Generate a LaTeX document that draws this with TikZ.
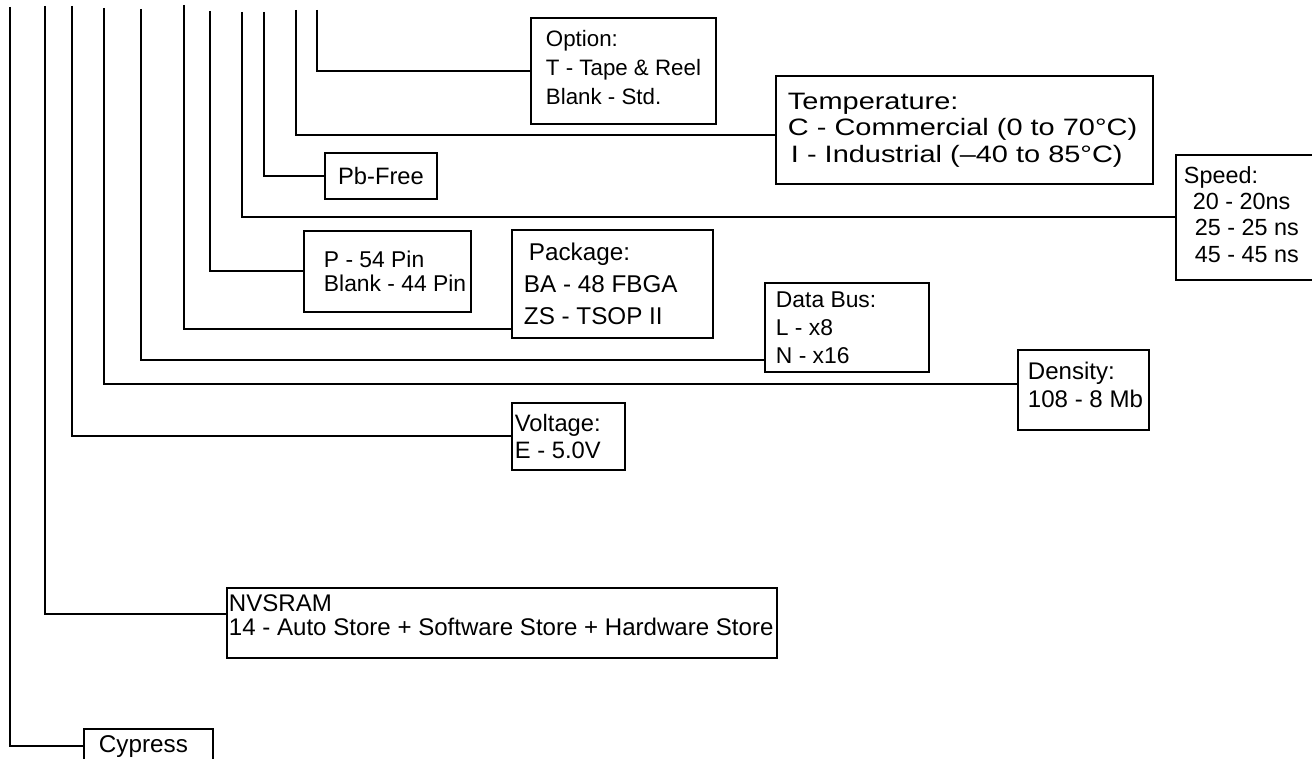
\documentclass[tikz,border=0pt]{standalone}
\usepackage{fontspec}
\setmainfont{Liberation Sans}
\newfontfamily\widefont[FakeStretch=1.22]{Liberation Sans}

\begin{document}
\begin{tikzpicture} [x=0.02cm, y=-0.02cm, line width=1.1pt]
\tikzstyle{box}=[draw, anchor=north west, inner sep=0pt, font=\fontsize{13.5}{16}\selectfont];
\tikzstyle{txt}=[anchor=west, align=left, inner sep=0pt, font=\fontsize{13.5}{16}\selectfont];
\useasboundingbox (0,0) rectangle (1312,759);
% boxes
\node [box, minimum width=3.7cm, minimum height=2.12cm] (opt) at (530,17) {};
\node [box, minimum width=7.54cm, minimum height=2.16cm] (temp) at (775,75) {};
\node [box, minimum width=2.24cm, minimum height=0.92cm] (pb) at (324,152) {Pb-Free};
\node [box, minimum width=4cm, minimum height=2.5cm] (sp) at (1175,154) {};
\node [box, minimum width=3.34cm, minimum height=1.62cm] (pin) at (303,230) {};
\node [box, minimum width=4.02cm, minimum height=2.16cm] (pkg) at (511,229) {};
\node [box, minimum width=3.28cm, minimum height=1.78cm] (bus) at (764,282) {};
\node [box, minimum width=2.62cm, minimum height=1.6cm] (dens) at (1017,349) {};
\node [box, minimum width=2.26cm, minimum height=1.34cm] (volt) at (511,402) {};
\node [box, minimum width=11cm, minimum height=1.4cm] (nv) at (226,587) {};
\node [box, minimum width=2.58cm, minimum height=0.7cm, font=\fontsize{13.8}{16}\selectfont] (cy) at (83,728) {Cypress\kern0.2cm};
% texts
\node [txt, xshift=0.3cm, yshift=0.06cm, font=\fontsize{12.7}{16.5}\selectfont] (optT) at (opt.west) {Option:\\T - Tape \& Reel\\Blank - Std.};
\node [txt, xshift=0.24cm, font=\widefont\fontsize{13.5}{15}\selectfont] (tempT) at (temp.west) {Temperature:\\C - Commercial (0 to 70°C)\\\hspace{0.06cm}I - Industrial (–40 to 85°C)};
\node [txt, xshift=0.16cm, yshift=0.06cm, font=\fontsize{13.3}{15}\selectfont] (spT) at (sp.west) {Speed:\\\hspace{0.18cm}20 - 20ns\\\hspace{0.22cm}25 - 25 ns\\\hspace{0.22cm}45 - 45 ns};
\node [txt, xshift=0.4cm, font=\fontsize{13}{13.6}\selectfont] (pinT) at (pin.west) {P - 54 Pin\\Blank - 44 Pin};
\node [txt, xshift=0.24cm, font=\fontsize{13.8}{18}\selectfont] (pkgT) at (pkg.west) {\hspace{0.1cm}Package:\\BA - 48 FBGA\\ZS - TSOP II};
\node [txt, xshift=0.22cm, font=\fontsize{13}{16}\selectfont] (busT) at (bus.west) {Data Bus:\\L - x8\\N - x16};
\node [txt, xshift=0.2cm, yshift=0.1cm, font=\fontsize{13.7}{16}\selectfont] (densT) at (dens.west) {Density:\\108 - 8 Mb};
\node [txt, xshift=0.06cm, font=\fontsize{13.5}{15}\selectfont] (voltT) at (volt.west) {Voltage:\\E - 5.0V};
\node [txt, xshift=0.04cm, yshift=0.16cm, font=\fontsize{13.7}{13.8}\selectfont] (nvT) at (nv.west) {NVSRAM\\14 - Auto Store + Software Store + Hardware Store};
% tree lines
\coordinate (vCy) at (10,7);
\coordinate (vNv) at (45,6);
\coordinate (vVolt) at (72,6);
\coordinate (vDens) at (104,8);
\coordinate (vBus) at (141,9);
\coordinate (vPkg) at (184,5);
\coordinate (vPin) at (210,11);
\coordinate (vSp) at (242,12);
\coordinate (vPb) at (264,12);
\coordinate (vTemp) at (296,10);
\coordinate (vOpt) at (317,10);
\draw (vCy) |- (cy.west);
\draw (vNv) |- ([yshift=0.18cm]nv.west);
\draw (vVolt) |- (volt.west);
\draw (vDens) |- ([yshift=0.12cm]dens.west);
\draw (vBus) |- ([yshift=0.26cm]bus.south west);
\draw (vPkg) |- ([yshift=0.2cm]pkg.south west);
\draw (vPin) |- (pin.west);
\draw (vSp) |- (sp.west);
\draw (vPb) |- (pb.west);
\draw (vTemp) |- ([yshift=-0.1cm]temp.west);
\draw (vOpt) |- (opt.west);
\end{tikzpicture}
\end{document}
